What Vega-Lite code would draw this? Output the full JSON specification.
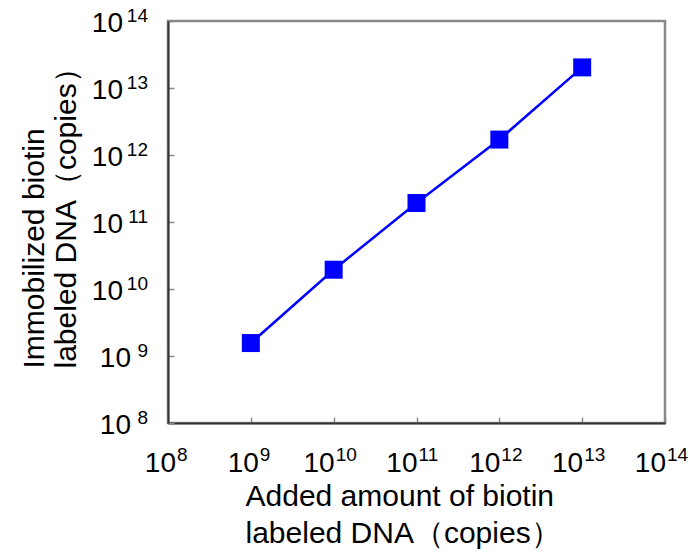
{
  "$schema": "https://vega.github.io/schema/vega-lite/v6.json",
  "width": 497,
  "height": 402,
  "autosize": {"type": "none"},
  "padding": {"left": 168, "top": 21, "right": 34, "bottom": 129},
  "background": "white",
  "config": {"view": {"stroke": "#8a8a8a", "strokeWidth": 2.5}, "font": "Liberation Sans"},
  "datasets": {
    "points": [
      {"added": 1e9, "immobilized": 1.56e9},
      {"added": 1e10, "immobilized": 1.94e10},
      {"added": 1e11, "immobilized": 1.92e11},
      {"added": 1e12, "immobilized": 1.7e12},
      {"added": 1e13, "immobilized": 2.03e13}
    ],
    "ticks": [
      {"v": 1e8, "exp": "8"},
      {"v": 1e9, "exp": "9"},
      {"v": 1e10, "exp": "10"},
      {"v": 1e11, "exp": "11"},
      {"v": 1e12, "exp": "12"},
      {"v": 1e13, "exp": "13"},
      {"v": 1e14, "exp": "14"}
    ]
  },
  "layer": [
    {
      "data": {"name": "points"},
      "mark": {"type": "line", "color": "#0000ff", "strokeWidth": 2.5},
      "encoding": {
        "x": {
          "field": "added", "type": "quantitative",
          "scale": {"type": "log", "domain": [1e8, 1e14], "nice": false},
          "axis": {
            "values": [1e8, 1e9, 1e10, 1e11, 1e12, 1e13, 1e14],
            "labels": false, "grid": false,
            "tickSize": -6, "tickColor": "#888888", "tickWidth": 1.5,
            "domainColor": "#333333", "domainWidth": 2,
            "title": ["Added amount of biotin", "labeled DNA（copies）"],
            "titleFont": "Liberation Sans", "titleFontSize": 30, "titleFontWeight": "normal",
            "titleColor": "#000000", "titleAlign": "left", "titleBaseline": "alphabetic",
            "titleAngle": 0, "titleX": 77, "titleY": 82, "titleLineHeight": 37
          }
        },
        "y": {
          "field": "immobilized", "type": "quantitative",
          "scale": {"type": "log", "domain": [1e8, 1e14], "nice": false},
          "axis": {
            "values": [1e8, 1e9, 1e10, 1e11, 1e12, 1e13, 1e14],
            "labels": false, "grid": false,
            "tickSize": -6, "tickColor": "#888888", "tickWidth": 1.5,
            "domainColor": "#333333", "domainWidth": 2,
            "title": ["Immobilized biotin", "labeled DNA（copies）"],
            "titleFont": "Liberation Sans", "titleFontSize": 30, "titleFontWeight": "normal",
            "titleColor": "#000000", "titleAlign": "left", "titleBaseline": "alphabetic",
            "titleAngle": 270, "titleX": -125, "titleY": 347, "titleLineHeight": 32
          }
        }
      }
    },
    {
      "data": {"name": "points"},
      "mark": {"type": "square", "size": 324, "filled": true, "color": "#0000ff", "opacity": 1},
      "encoding": {
        "x": {"field": "added", "type": "quantitative"},
        "y": {"field": "immobilized", "type": "quantitative"}
      }
    },
    {
      "data": {"name": "ticks"},
      "transform": [{"filter": "datum.v < 1e10"}],
      "mark": {"type": "text", "text": "10", "align": "right", "baseline": "alphabetic", "dx": 8, "dy": 49, "fontSize": 28, "font": "Liberation Sans", "color": "#000000"},
      "encoding": {
        "x": {"field": "v", "type": "quantitative"},
        "y": {"datum": 1e8, "type": "quantitative"}
      }
    },
    {
      "data": {"name": "ticks"},
      "transform": [{"filter": "datum.v >= 1e10"}],
      "mark": {"type": "text", "text": "10", "align": "right", "baseline": "alphabetic", "dx": 1, "dy": 49, "fontSize": 28, "font": "Liberation Sans", "color": "#000000"},
      "encoding": {
        "x": {"field": "v", "type": "quantitative"},
        "y": {"datum": 1e8, "type": "quantitative"}
      }
    },
    {
      "data": {"name": "ticks"},
      "transform": [{"filter": "datum.v < 1e10"}],
      "mark": {"type": "text", "align": "left", "baseline": "alphabetic", "dx": 9, "dy": 38, "fontSize": 19, "font": "Liberation Sans", "color": "#000000"},
      "encoding": {
        "x": {"field": "v", "type": "quantitative"},
        "y": {"datum": 1e8, "type": "quantitative"},
        "text": {"field": "exp", "type": "nominal"}
      }
    },
    {
      "data": {"name": "ticks"},
      "transform": [{"filter": "datum.v >= 1e10"}],
      "mark": {"type": "text", "align": "left", "baseline": "alphabetic", "dx": 2, "dy": 38, "fontSize": 19, "font": "Liberation Sans", "color": "#000000"},
      "encoding": {
        "x": {"field": "v", "type": "quantitative"},
        "y": {"datum": 1e8, "type": "quantitative"},
        "text": {"field": "exp", "type": "nominal"}
      }
    },
    {
      "data": {"name": "ticks"},
      "transform": [{"filter": "datum.v < 1e10"}],
      "mark": {"type": "text", "text": "10", "align": "right", "baseline": "alphabetic", "dx": -37, "dy": 11, "fontSize": 28, "font": "Liberation Sans", "color": "#000000"},
      "encoding": {
        "y": {"field": "v", "type": "quantitative"},
        "x": {"datum": 1e8, "type": "quantitative"}
      }
    },
    {
      "data": {"name": "ticks"},
      "transform": [{"filter": "datum.v >= 1e10"}],
      "mark": {"type": "text", "text": "10", "align": "right", "baseline": "alphabetic", "dx": -45, "dy": 11, "fontSize": 28, "font": "Liberation Sans", "color": "#000000"},
      "encoding": {
        "y": {"field": "v", "type": "quantitative"},
        "x": {"datum": 1e8, "type": "quantitative"}
      }
    },
    {
      "data": {"name": "ticks"},
      "mark": {"type": "text", "align": "right", "baseline": "alphabetic", "dx": -20, "dy": 1, "fontSize": 19, "font": "Liberation Sans", "color": "#000000"},
      "encoding": {
        "y": {"field": "v", "type": "quantitative"},
        "x": {"datum": 1e8, "type": "quantitative"},
        "text": {"field": "exp", "type": "nominal"}
      }
    }
  ]
}
